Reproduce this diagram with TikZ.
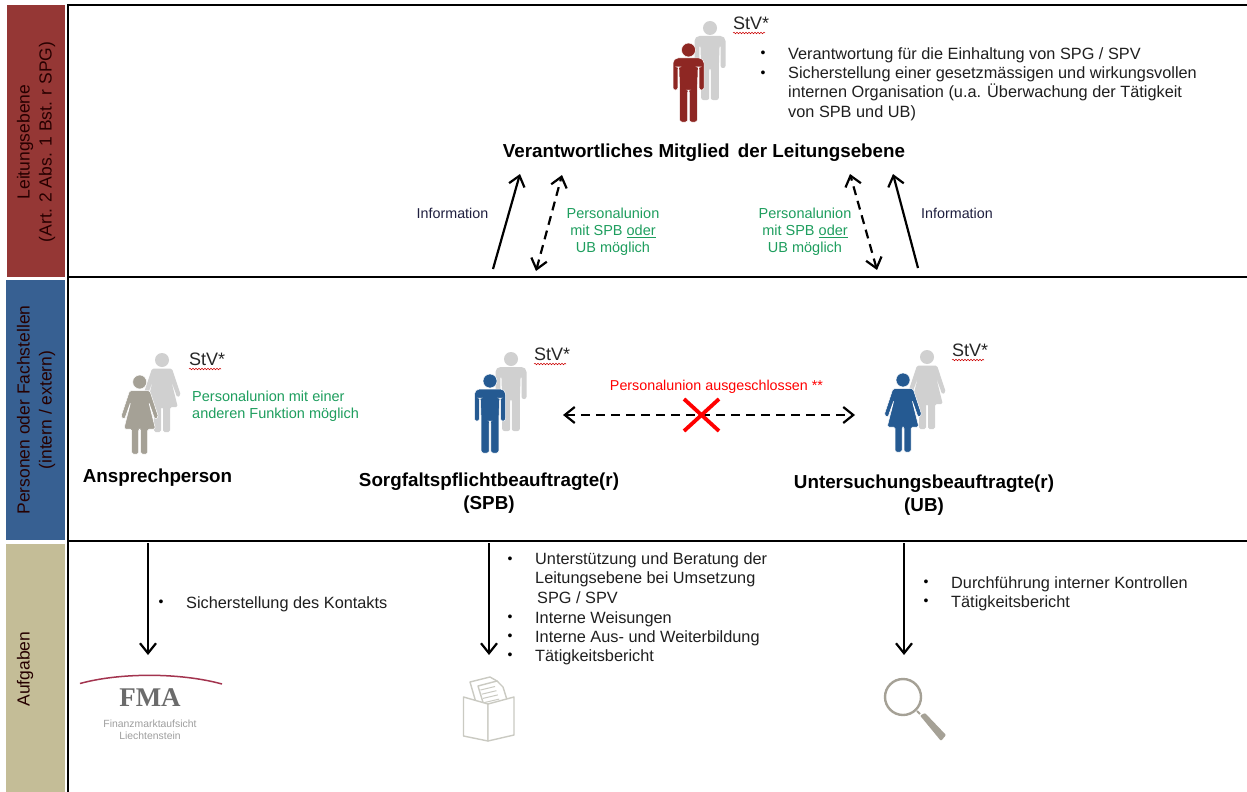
\documentclass[tikz,border=0pt]{standalone}
\usepackage{fontspec}
\setmainfont{Liberation Sans}
\newfontfamily\fmaserif{Liberation Serif}
\usetikzlibrary{arrows.meta,decorations.pathmorphing}
\definecolor{lred}{HTML}{953735}
\definecolor{lblue}{HTML}{376092}
\definecolor{ltan}{HTML}{C4BD97}
\definecolor{fred}{HTML}{8E2723}
\definecolor{fblue}{HTML}{255A92}
\definecolor{ftaupe}{HTML}{A5A196}
\definecolor{fgray}{HTML}{D0D0D0}
\definecolor{tgreen}{HTML}{1E9E5E}
\definecolor{tnavy}{HTML}{1F1F3F}
\definecolor{fmacrim}{HTML}{A3344F}
\definecolor{icon}{HTML}{CACAC2}
\tikzset{
  x=1pt,y=-1pt,
  manfig/.pic={
    \path[pic actions] (0,7) circle[radius=7];
    \path[pic actions,rounded corners=5pt] (-15.5,15) -- (15.5,15) [rounded corners=2.2pt] -- (15.5,47) -- (10.6,47) -- (10.6,24) -- (9.6,24) -- (8.8,47) -- (8.8,79) -- (0.8,79) -- (0.8,47) -- (-0.8,47) -- (-0.8,79) -- (-8.8,79) -- (-8.8,47) -- (-9.6,24) -- (-10.6,24) -- (-10.6,47) -- (-15.5,47) [rounded corners=5pt] -- cycle;
  },
  womanfig/.pic={
    \path[pic actions] (0,7) circle[radius=7];
    \path[pic actions,rounded corners=1.6pt] (-10,15.5) -- (10,15.5) -- (18.8,42) -- (15.2,44.5) -- (9,27) -- (15.8,54) -- (8,54) -- (8,79) -- (1,79) -- (1,54) -- (-1,54) -- (-1,79) -- (-8,79) -- (-8,54) -- (-15.8,54) -- (-9,27) -- (-15.2,44.5) -- (-18.8,42) -- cycle;
  },
  back/.style={fill=fgray},
  bandtext/.style={inner sep=0,rotate=90,align=center,font=\fontsize{17.5}{22}\selectfont,text=black!85!red},
  rule/.style={line width=2.2pt,black},
  txt/.style={inner sep=0,anchor=west,align=left,font=\fontsize{16.3}{19.4}\selectfont,text=black!88},
  bul/.style={inner sep=0,font=\fontsize{14}{14}\selectfont},
  title/.style={inner sep=0,align=center,font=\bfseries\fontsize{18.8}{23.5}\selectfont},
  green/.style={inner sep=0,align=center,text=tgreen,font=\fontsize{14.5}{17.2}\selectfont},
  info/.style={inner sep=0,text=tnavy,font=\fontsize{14.3}{15}\selectfont},
  stv/.style={inner sep=0,anchor=west,font=\fontsize{18}{20}\selectfont,text=black!85},
  squig/.style={red!80!black,line width=.5pt,decorate,decoration={snake,amplitude=.8pt,segment length=3pt}},
  solidarr/.style={-{Straight Barb[length=10pt,width=16pt]},line width=2.2pt,black},
  dasharr/.style={{Straight Barb[length=10pt,width=16pt]}-{Straight Barb[length=10pt,width=16pt]},line width=2.2pt,black,dash pattern=on 9pt off 6pt},
  icondraw/.style={icon,line width=1.4pt,line join=round,fill=white},
}
\begin{document}
\begin{tikzpicture}
\useasboundingbox[fill=white] (0,0) rectangle (1247,792);
% left bands
\fill[lred] (7,5) rectangle (65,277);
\fill[lblue] (6,280) rectangle (65,540);
\fill[ltan] (6,544) rectangle (65,792);
\node[bandtext] (bandA) at (36,142) {Leitungsebene\\(Art. 2 Abs. 1 Bst. r SPG)};
\node[bandtext] (bandB) at (36,410) {Personen oder Fachstellen\\(intern / extern)};
\node[bandtext] (bandC) at (25,669) {Aufgaben};
% frame
\draw[rule] (68,792) -- (68,5) -- (1247,5);
\draw[rule] (68,277) -- (1247,277);
\draw[rule] (68,541) -- (1247,541);
% persons
\pic[back] at (710,21) {manfig};
\pic[fill=fred,draw=white,line width=.5pt] at (688.5,43) {manfig};
\pic[back] at (162,353) {womanfig};
\pic[fill=ftaupe,draw=white,line width=.5pt] at (139.7,375) {womanfig};
\pic[back] at (511,352) {manfig};
\pic[fill=fblue,draw=white,line width=.5pt] at (490,374) {manfig};
\pic[back] at (927,350) {womanfig};
\pic[fill=fblue,draw=white,line width=.5pt] at (903,373) {womanfig};
% StV
\node[stv] (stvA) at (733,23) {StV*};
\node[stv] (stvB) at (189,359) {StV*};
\node[stv] (stvC) at (534,354) {StV*};
\node[stv] (stvD) at (952,350) {StV*};
\draw[squig] (733,33) -- (765,33);
\draw[squig] (189,369) -- (221,369);
\draw[squig] (534,364) -- (566,364);
\draw[squig] (952,360) -- (984,360);
% top list
\node[bul] (b1) at (763,54) {•};
\node[txt] (t1) at (788,55) {Verantwortung für die Einhaltung von SPG / SPV};
\node[bul] (b2) at (763,74) {•};
\node[txt,anchor=north west] (t2) at (788,66.5) {Sicherstellung einer gesetzmässigen und wirkungsvollen\\internen Organisation (u.a. Überwachung der Tätigkeit\\von SPB und UB)};
% titles
\node[title] (leit) at (704,153) {Verantwortliches Mitglied\, der Leitungsebene};
\node[title] (ansp) at (157.5,478) {Ansprechperson};
\node[title] (spb) at (489,493) {Sorgfaltspflichtbeauftragte(r)\\(SPB)};
\node[title] (ub) at (924,495) {Untersuchungsbeauftragte(r)\\(UB)};
% labels
\node[info] (infoL) at (452.5,213.5) {Information};
\node[info] (infoR) at (957,213.5) {Information};
\node[green] (puL) at (613,232) {Personalunion\\mit SPB \underline{oder}\\UB möglich};
\node[green] (puR) at (805,232) {Personalunion\\mit SPB \underline{oder}\\UB möglich};
\node[green,align=left,anchor=west] (puA) at (192,406.5) {Personalunion mit einer\\anderen Funktion möglich};
\node[inner sep=0,text=red,font=\fontsize{14.3}{15}\selectfont] (ausg) at (716.5,386.5) {Personalunion ausgeschlossen **};
% connectors
\coordinate (a1s) at (493,269); \coordinate (a1e) at (520,174);
\coordinate (a2s) at (536,271); \coordinate (a2e) at (562,175);
\coordinate (a3s) at (877,270); \coordinate (a3e) at (850,174);
\coordinate (a4s) at (918,268); \coordinate (a4e) at (893,174);
\coordinate (hl) at (563,415); \coordinate (hr) at (855,415);
\coordinate (d1s) at (148,543); \coordinate (d1e) at (148,655);
\coordinate (d2s) at (489,543); \coordinate (d2e) at (489,655);
\coordinate (d3s) at (904,543); \coordinate (d3e) at (904,655);
\draw[solidarr] (a1s) -- (a1e);
\draw[dasharr] (a2s) -- (a2e);
\draw[dasharr] (a3s) -- (a3e);
\draw[solidarr] (a4s) -- (a4e);
\draw[dasharr] (hl) -- (hr);
\draw[solidarr] (d1s) -- (d1e);
\draw[solidarr] (d2s) -- (d2e);
\draw[solidarr] (d3s) -- (d3e);
% cross
\draw[red,line width=3.8pt] (684,399) -- (719,431);
\draw[red,line width=3.8pt] (719,399) -- (684,431);
% lists
\node[bul] (l1b) at (161,603) {•};
\node[txt] (l1) at (186,604) {Sicherstellung des Kontakts};
\node[bul] (m1b) at (510,560) {•};
\node[txt,anchor=north west] (m1) at (535,552.5) {Unterstützung und Beratung der\\Leitungsebene bei Umsetzung\\\hspace*{2pt}SPG / SPV};
\node[bul] (m2b) at (510,618) {•};
\node[txt] (m2) at (535,619) {Interne Weisungen};
\node[bul] (m3b) at (510,637) {•};
\node[txt] (m3) at (535,638) {Interne Aus- und Weiterbildung};
\node[bul] (m4b) at (510,656) {•};
\node[txt] (m4) at (535,657) {Tätigkeitsbericht};
\node[bul] (r1b) at (926,583) {•};
\node[txt] (r1) at (951,584) {Durchführung interner Kontrollen};
\node[bul] (r2b) at (926,602) {•};
\node[txt] (r2) at (951,603) {Tätigkeitsbericht};
% FMA logo
\draw[fmacrim,line width=1.5pt] (80,683.5) .. controls (120,672.5) and (180,672.5) .. (222,684);
\node[inner sep=0,text=black!58,font=\fmaserif\bfseries\fontsize{27}{29}\selectfont] (fma) at (150,698) {FMA};
\node[inner sep=0,align=center,text=black!38,font=\fontsize{10.4}{12.5}\selectfont] (fmat) at (150,730) {Finanzmarktaufsicht\\Liechtenstein};
% box icon
\draw[icondraw] (470,682) -- (490,677) -- (497,681) -- (500,685) -- (508,704) -- (477,706) -- cycle;
\draw[icondraw] (478,686) -- (497,681) -- (503,687) -- (508,703) -- (485,709) -- cycle;
\foreach \i in {0,1,2,3}{\draw[icon,line width=1pt] ({480.5+\i*1.2},{690+\i*4.2}) -- ({495+\i*1.4},{686.5+\i*4.2});}
\draw[icondraw] (463.5,697) -- (488,704) -- (488,741) -- (463.5,736) -- cycle;
\draw[icondraw] (488,704) -- (514,697) -- (514,735) -- (488,741) -- cycle;
% magnifier
\draw[ftaupe,line width=2.4pt] (903,697) circle[radius=18];
\draw[ftaupe,line width=1.8pt] (917,711) -- (920,714);
\fill[ftaupe,rounded corners=1pt] (920,715.5) -- (925,713) -- (946,735) -- (941,741) -- cycle;
\end{tikzpicture}
\end{document}
